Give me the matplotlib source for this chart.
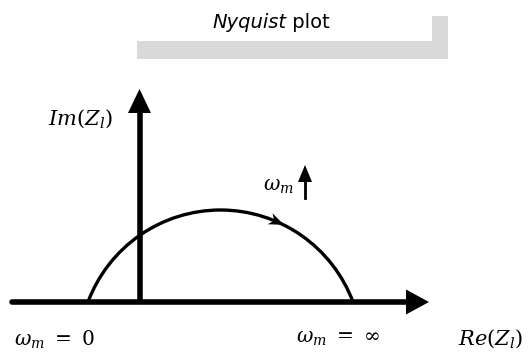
import matplotlib
matplotlib.use("Agg")
import matplotlib.pyplot as plt
from matplotlib.patches import Arc, Polygon, Rectangle
import numpy as np

plt.rcParams["mathtext.fontset"] = "dejavuserif"

# Canvas in pixel units (origin top-left)
W, H = 528, 358

# Axes of the Nyquist diagram
axis_y = 302             # real axis height
real_axis_x = [12, 407]  # line extent; head runs to real_tip
real_tip = 429
imag_axis_x = 139.5
imag_axis_y = [304, 112]
imag_tip = 89

# Impedance semicircle: feet on the real axis and apex height
arc_feet = [88, 353]
arc_apex_y = 210
arc_marker_x = 277

# Frequency direction marker
omega_arrow_x = 305
omega_arrow_y = [198, 165]

# Title banner
title_text = ["Nyquist", " plot"]
banner_h = [137, 448, 41, 59]
banner_v = [432, 448, 16, 59]

labels = {
    "im": (r"$Im(Z_l)$", 80, 119, 15),
    "re": (r"$Re(Z_l)$", 490, 339, 15),
    "w0": (r"$\omega_m\ =\ 0$", 55, 340, 14.5),
    "winf": (r"$\omega_m\ =\ \infty$", 338, 339, 14.5),
    "wm": (r"$\omega_m$", 278, 186, 14.5),
}

fig = plt.figure(figsize=(W / 100, H / 100), dpi=100)
ax = fig.add_axes([0, 0, 1, 1])
ax.set_xlim(0, W)
ax.set_ylim(H, 0)
ax.set_aspect("equal")
ax.axis("off")

grey = "#d9d9d9"
ax.add_patch(Rectangle((banner_h[0], banner_h[2]), banner_h[1] - banner_h[0],
                       banner_h[3] - banner_h[2], color=grey, lw=0))
ax.add_patch(Rectangle((banner_v[0], banner_v[2]), banner_v[1] - banner_v[0],
                       banner_v[3] - banner_v[2], color=grey, lw=0))

t1 = ax.text(212, 28, title_text[0], fontsize=14, style="italic",
             family="DejaVu Sans", va="baseline", ha="left")
ax.annotate(title_text[1], xy=(1, 0), xycoords=t1, fontsize=14,
            family="DejaVu Sans", va="bottom", ha="left")

# Real axis
ax.plot(real_axis_x, [axis_y, axis_y], color="black", lw=4,
        solid_capstyle="round")
ax.add_patch(Polygon([(real_axis_x[1] - 1, axis_y - 12.5),
                      (real_tip, axis_y),
                      (real_axis_x[1] - 1, axis_y + 12.5)],
                     closed=True, color="black", lw=0))

# Imaginary axis
ax.plot([imag_axis_x, imag_axis_x], imag_axis_y, color="black", lw=4,
        solid_capstyle="butt")
ax.add_patch(Polygon([(imag_axis_x - 11.5, imag_axis_y[1] + 1),
                      (imag_axis_x, imag_tip),
                      (imag_axis_x + 11.5, imag_axis_y[1] + 1)],
                     closed=True, color="black", lw=0))

# Semicircle arc (circle through the two feet and the apex)
half = (arc_feet[1] - arc_feet[0]) / 2
cx = (arc_feet[0] + arc_feet[1]) / 2
sag = axis_y - arc_apex_y
R = (half ** 2 + sag ** 2) / (2 * sag)
cy = arc_apex_y + R
a_left = np.degrees(np.arctan2(axis_y - cy, arc_feet[0] - cx)) % 360
a_right = np.degrees(np.arctan2(axis_y - cy, arc_feet[1] - cx)) % 360
ax.add_patch(Arc((cx, cy), 2 * R, 2 * R, theta1=a_left, theta2=a_right,
                 color="black", lw=2.4))

# Direction marker on the arc
phi = np.arctan2(-np.sqrt(R ** 2 - (arc_marker_x - cx) ** 2), arc_marker_x - cx)
px, py = cx + R * np.cos(phi), cy + R * np.sin(phi)
tx, ty = -np.sin(phi), np.cos(phi)
tx, ty = (tx, ty) if tx > 0 else (-tx, -ty)
nx, ny = -ty, tx
L, Wd = 15, 6
tip = (px + L / 2 * tx, py + L / 2 * ty)
base = (px - L / 2 * tx, py - L / 2 * ty)
ax.add_patch(Polygon([tip,
                      (base[0] + Wd * nx, base[1] + Wd * ny),
                      (base[0] + 0.3 * L * tx, base[1] + 0.3 * L * ty),
                      (base[0] - Wd * nx, base[1] - Wd * ny)],
                     closed=True, color="black", lw=0))

# Small frequency arrow
ax.plot([omega_arrow_x, omega_arrow_x], [omega_arrow_y[0], omega_arrow_y[1] + 16],
        color="black", lw=2)
ax.add_patch(Polygon([(omega_arrow_x - 7, omega_arrow_y[1] + 17),
                      (omega_arrow_x, omega_arrow_y[1]),
                      (omega_arrow_x + 7, omega_arrow_y[1] + 17)],
                     closed=True, color="black", lw=0))

for key, (txt, x, y, fs) in labels.items():
    ax.text(x, y, txt, fontsize=fs, ha="center", va="center", color="black")

fig.savefig("out.png", dpi=100)
